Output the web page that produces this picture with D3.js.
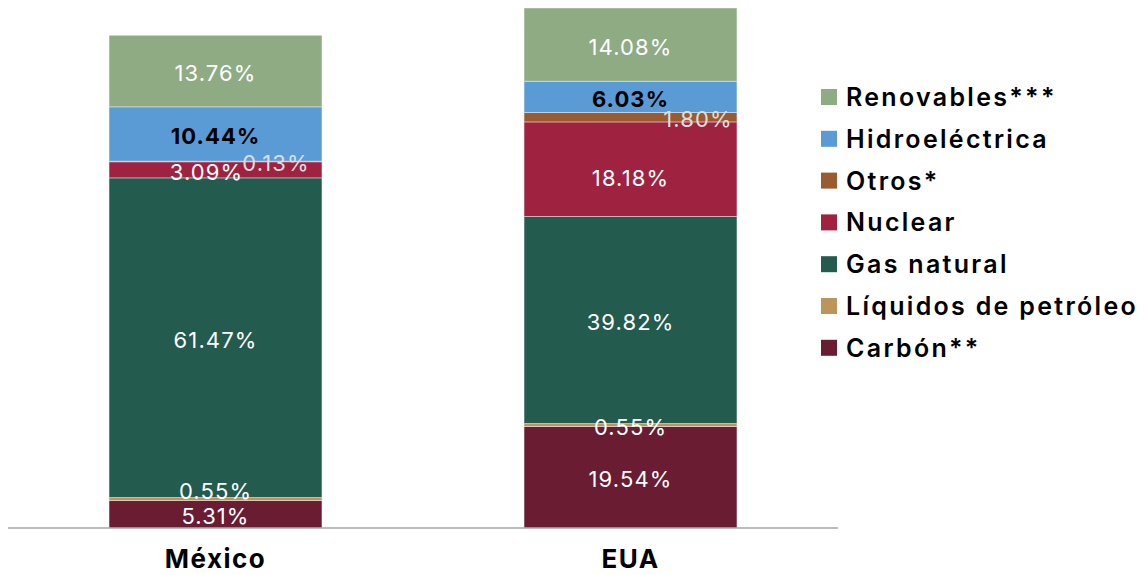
<!DOCTYPE html>
<html lang="es">
<head>
<meta charset="utf-8">
<script src="https://cdn.jsdelivr.net/npm/d3@7"></script>
<style>
  html, body { margin: 0; padding: 0; background: #ffffff; }
  svg { display: block; font-family: Inter, "Open Sans", sans-serif; }
</style>
</head>
<body>
<svg id="chart" width="1144" height="575"></svg>
<script>
// Generation mix by source, percent of total
const categories = ["México", "EUA"];
const seriesNames = ["Carbón**", "Líquidos de petróleo", "Gas natural", "Nuclear", "Otros*", "Hidroeléctrica", "Renovables***"];
const carbon      = [5.31, 19.54];
const liquidos    = [0.55, 0.55];
const gasNatural  = [61.47, 39.82];
const nuclear     = [3.09, 18.18];
const otros       = [0.13, 1.80];
const hidro       = [10.44, 6.03];
const renovables  = [13.76, 14.08];
const yTicks      = [0, 100];

const seriesValues = [carbon, liquidos, gasNatural, nuclear, otros, hidro, renovables];
const colors = ["#691c32", "#bc955c", "#235b4e", "#9f2241", "#9b5b31", "#5b9bd5", "#8fab84"];

// Label styling per series
const labelFill   = ["#ffffff", "#ffffff", "#ffffff", "#ffffff", "#dedede", "#000000", "#ffffff"];
const labelWeight = [400, 400, 400, 400, 400, 700, 400];

// Nudges for labels that sit off-centre: [dx, dy] keyed by "series|category"
const labelNudge = {
  "Líquidos de petróleo|México": [0, -10],
  "Nuclear|México": [-9, 0.5],
  "Otros*|México": [60.5, 0],
  "Otros*|EUA": [67.5, 0],
  "Nuclear|EUA": [0, 6.5]
};

const table = categories.map((c, i) => {
  const row = { category: c };
  seriesNames.forEach((s, j) => { row[s] = seriesValues[j][i]; });
  return row;
});

const stacked = d3.stack().keys(seriesNames)(table);

const svg = d3.select("#chart");
const plot = { left: 8, right: 838, top: 8, bottom: 528 };

const x = d3.scaleBand()
  .domain(categories)
  .range([plot.left, plot.right])
  .paddingInner(0.487)
  .paddingOuter(0.2435);

const y = d3.scaleLinear()
  .domain(d3.extent(yTicks))
  .range([plot.bottom, plot.top]);

const color = d3.scaleOrdinal().domain(seriesNames).range(colors);

// Stacked segments
const layers = svg.append("g").selectAll("g")
  .data(stacked)
  .join("g")
  .attr("fill", d => color(d.key));

layers.selectAll("rect")
  .data(d => d.map(p => ({ key: d.key, p })))
  .join("rect")
  .attr("x", d => x(d.p.data.category))
  .attr("width", x.bandwidth())
  .attr("y", d => y(d.p[1]))
  .attr("height", d => y(d.p[0]) - y(d.p[1]))
  .attr("stroke", "#ffffff")
  .attr("stroke-opacity", 0.5)
  .attr("stroke-width", 0.8);

// Value labels
const labels = svg.append("g")
  .attr("font-size", 22)
  .attr("letter-spacing", 1.1)
  .attr("text-anchor", "middle");

stacked.forEach((layer, j) => {
  layer.forEach(p => {
    const key = layer.key + "|" + p.data.category;
    const nudge = labelNudge[key] || [0, 0];
    const cx = x(p.data.category) + x.bandwidth() / 2 + nudge[0];
    const cy = (y(p[0]) + y(p[1])) / 2 + 2 + nudge[1];
    labels.append("text")
      .attr("x", cx)
      .attr("y", cy)
      .attr("dy", "0.36em")
      .attr("fill", labelFill[j])
      .attr("font-weight", labelWeight[j])
      .text(d3.format(".2f")(p.data[layer.key]) + "%");
  });
});

// Category axis
const xAxis = svg.append("g")
  .attr("transform", `translate(0,${plot.bottom})`)
  .call(d3.axisBottom(x).tickSize(0).tickPadding(22));
xAxis.select(".domain")
  .attr("stroke", "#a6a6a6")
  .attr("stroke-width", 1.5)
  .attr("d", `M${plot.left},0H${plot.right}`);
xAxis.selectAll("text")
  .attr("font-family", "Inter, sans-serif")
  .attr("font-size", 26)
  .attr("font-weight", 700)
  .attr("letter-spacing", 1.5)
  .attr("fill", "#000000")
  .attr("dy", "0.71em");

// Legend, top entry = top segment
const legendItems = seriesNames.slice().reverse();
const legend = svg.append("g")
  .attr("transform", "translate(821,89)");
const item = legend.selectAll("g")
  .data(legendItems)
  .join("g")
  .attr("transform", (d, i) => `translate(0,${i * 41.8})`);
item.append("rect")
  .attr("width", 16)
  .attr("height", 16)
  .attr("fill", d => color(d));
item.append("text")
  .attr("x", 25)
  .attr("y", 8)
  .attr("dy", "0.36em")
  .attr("font-size", 25)
  .attr("font-weight", 600)
  .attr("letter-spacing", 2.3)
  .attr("fill", "#000000")
  .text(d => d);
</script>
</body>
</html>
